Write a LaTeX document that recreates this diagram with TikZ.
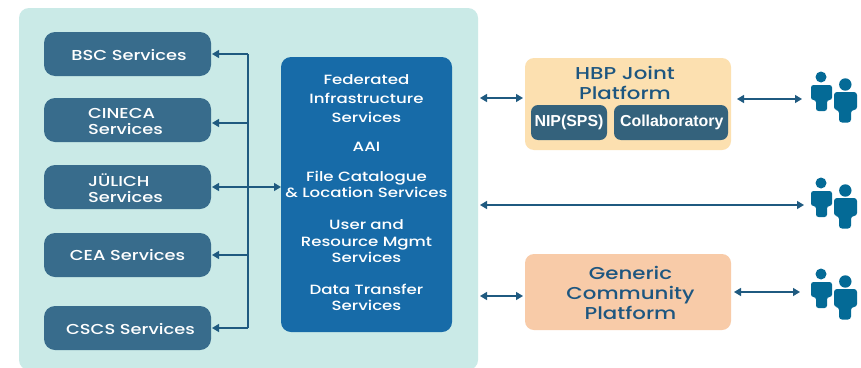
\documentclass[tikz,border=0pt]{standalone}
\usepackage{fontspec}
\usetikzlibrary{arrows.meta,positioning}
\newfontfamily\wide[FakeStretch=1.24]{Poppins Medium}
\newfontfamily\plainbold{Liberation Sans Bold}
\definecolor{panelc}{HTML}{CAEAE7}
\definecolor{svc}{HTML}{386C8C}
\definecolor{hubc}{HTML}{176BA8}
\definecolor{joint}{HTML}{FCE0B0}
\definecolor{generic}{HTML}{F8CBA8}
\definecolor{inner}{HTML}{34627C}
\definecolor{wire}{HTML}{1F5A80}
\definecolor{persona}{HTML}{046A96}
\definecolor{titlec}{HTML}{1D5680}
\tikzset{
  x=1pt,y=-1pt,
  box/.style={rounded corners=#1,inner sep=0pt,outer sep=0pt,anchor=center},
  svcbox/.style={box=11pt,fill=svc,minimum width=167pt,minimum height=44pt,text=white,align=left,font=\wide\fontsize{14.4}{16}\selectfont},
  innerbox/.style={box=7pt,fill=inner,minimum height=35pt,text=white,font=\plainbold\fontsize{15.9}{18}\selectfont},
  platform/.style={box=9pt,minimum width=206pt,align=center,text=titlec,font=\wide\fontsize{17.2}{20}\selectfont},
  link/.style={draw=wire,line width=1.3pt,{Triangle[length=7pt,width=8pt]}-{Triangle[length=7pt,width=8pt]}},
  tolink/.style={draw=wire,line width=1.3pt,-{Triangle[length=7pt,width=8pt]}},
  people/.pic={
    \fill[persona] (821,77) circle (5.5);
    \fill[persona,rounded corners=2.5pt] (811,85) -- (832,85) -- (832,100) -- (827,100) -- (827,111) -- (816,111) -- (816,100) -- (811,100) -- cycle;
    \fill[persona] (845.3,84.5) circle (6.2);
    \fill[persona,rounded corners=3pt] (834,92) -- (857,92) -- (857,110) -- (851,110) -- (851,122.5) -- (839,122.5) -- (839,110) -- (834,110) -- cycle;
  }
}
\begin{document}
\begin{tikzpicture}
\useasboundingbox (0,0) rectangle (861,367);
\fill[white] (0,0) rectangle (861,367);
\node[box=10pt,fill=panelc,minimum width=459pt,minimum height=362pt] (panel) at (248.5,189) {};

\node[svcbox] (bsc) at (127.5,54) {\hspace*{3pt}\rule{0pt}{13.5pt}BSC Services};
\node[svcbox] (cineca) at (127.5,120) {\hspace*{-4pt}\rule{0pt}{14pt}CINECA\\\hspace*{-4pt}Services};
\node[svcbox] (julich) at (127.5,187) {\hspace*{-4pt}\rule{0pt}{15pt}JÜLICH\\\hspace*{-4pt}Services};
\node[svcbox] (cea) at (127.5,255) {CEA Services};
\node[svcbox] (cscs) at (127.5,328) {\hspace*{6pt}\rule{0pt}{13.5pt}CSCS Services};

\node[box=10pt,fill=hubc,minimum width=171pt,minimum height=275pt,text=white,align=center,font=\wide\fontsize{13.4}{16}\selectfont] (hub) at (366.5,194.5)
 {Federated\\[3pt]Infrastructure\\[3pt]Services\\[13pt]AAI\\[14pt]File Catalogue\\\& Location Services\\[16pt]User and\\[1pt]Resource Mgmt\\Services\\[16pt]Data Transfer\\Services\\[-12pt]\mbox{}};

\node[platform,fill=joint,minimum height=92pt] (hbp) at (628,104) {};
\node[text=titlec,align=center,inner sep=0pt,font=\wide\fontsize{17.2}{20}\selectfont] (hbptitle) at (625,82.5) {HBP Joint\\Platform};
\node[innerbox,minimum width=76pt] (nip) at (569,122.5) {NIP(SPS)};
\node[innerbox,minimum width=114pt] (collab) at (671,122.5) {\hspace*{1.5pt}Collaboratory};
\node[platform,fill=generic,minimum height=76pt] (gcp) at (628,292) {\hspace*{5pt}\rule{0pt}{15pt}Generic\\\hspace*{5pt}Community\\\hspace*{5pt}Platform};

\pic at (0,0) {people};
\pic at (0,106) {people};
\pic at (0,197) {people};

\coordinate (busTop) at (248,54);
\coordinate (busBottom) at (248,328);
\coordinate (r1) at (0,98);
\coordinate (r2) at (0,205);
\coordinate (r3) at (0,296);
\coordinate (u1) at (811,99);
\coordinate (u2) at (811,205);
\coordinate (u3) at (811,292);

\draw[wire,line width=1.3pt] (busTop) -- (busBottom);
\draw[tolink,shorten >=1pt] (busTop) -- (bsc.east);
\draw[tolink,shorten >=1pt] (248,123) -- (cineca.east |- 248,123);
\draw[link,shorten <=1pt] (julich.east) -- (hub.west |- julich.east);
\draw[tolink,shorten >=1pt] (248,255) -- (cea.east);
\draw[tolink,shorten >=1pt] (busBottom) -- (cscs.east);

\draw[link,shorten <=2pt,shorten >=2pt] (panel.east |- r1) -- (hbp.west |- r1);
\draw[link,shorten <=2pt,shorten >=7pt] (panel.east |- r2) -- (u2);
\draw[link,shorten <=2pt,shorten >=2pt] (panel.east |- r3) -- (gcp.west |- r3);
\draw[link,shorten <=6pt,shorten >=9pt] (hbp.east |- u1) -- (u1);
\draw[link,shorten <=3pt,shorten >=11pt] (gcp.east |- u3) -- (u3);
\end{tikzpicture}
\end{document}
